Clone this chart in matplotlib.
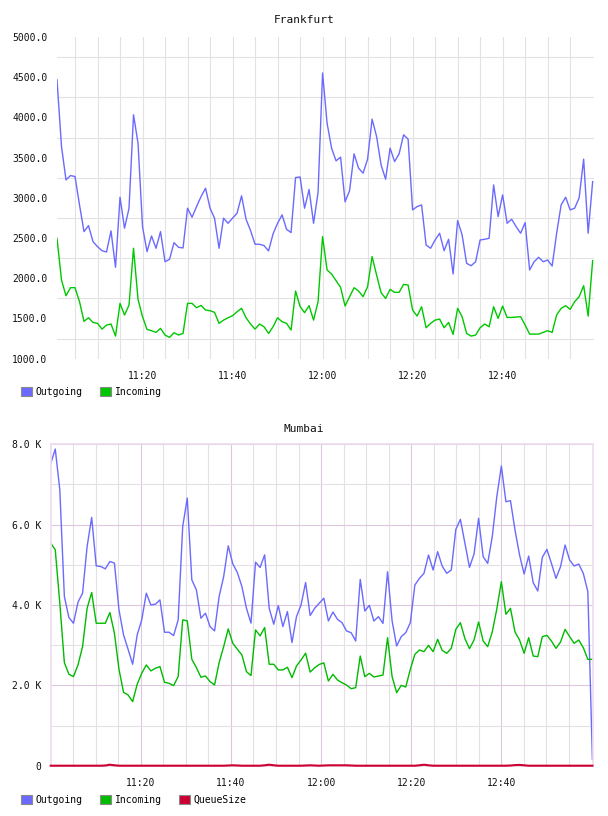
import numpy as np
import matplotlib
matplotlib.use("Agg")
import matplotlib.pyplot as plt
from matplotlib.patches import Patch
from matplotlib.ticker import FixedLocator, FuncFormatter

# ---------------- data ----------------
# Frankfurt: one sample per minute, 11:01 .. 13:00 (minutes after 11:00)
fra_start_min = 1
fra_outgoing = [4469, 3638, 3223, 3277, 3265, 2912, 2580, 2655, 2455, 2393,
                2343, 2327, 2589, 2137, 3008, 2622, 2871, 4033, 3680, 2642,
                2331, 2526, 2373, 2580, 2206, 2236, 2443, 2385, 2377, 2871,
                2759, 2891, 3016, 3120, 2871, 2747, 2373, 2747, 2684, 2747,
                2809, 3025, 2734, 2593, 2423, 2423, 2406, 2340, 2552, 2684,
                2788, 2609, 2568, 3252, 3260, 2871, 3104, 2684, 3068, 4552,
                3929, 3618, 3460, 3506, 2950, 3090, 3547, 3369, 3307, 3481,
                3979, 3763, 3410, 3232, 3618, 3451, 3547, 3784, 3730, 2850,
                2891, 2912, 2414, 2373, 2476, 2560, 2343, 2485, 2053, 2717,
                2539, 2186, 2156, 2206, 2476, 2485, 2497, 3161, 2767, 3037,
                2684, 2734, 2642, 2560, 2692, 2103, 2206, 2261, 2206, 2227,
                2152, 2560, 2912, 3008, 2850, 2871, 3000, 3481, 2560, 3202]
fra_incoming = [2497, 1978, 1783, 1883, 1883, 1709, 1464, 1509, 1451, 1439,
                1368, 1418, 1431, 1281, 1688, 1543, 1667, 2373, 1738, 1522,
                1364, 1348, 1327, 1377, 1294, 1265, 1323, 1294, 1314, 1688,
                1688, 1634, 1663, 1605, 1597, 1576, 1439, 1480, 1509, 1534,
                1584, 1626, 1509, 1431, 1368, 1431, 1397, 1314, 1397, 1509,
                1460, 1439, 1356, 1841, 1650, 1572, 1659, 1480, 1709, 2518,
                2103, 2053, 1970, 1887, 1655, 1771, 1883, 1841, 1771, 1895,
                2269, 2041, 1821, 1750, 1862, 1825, 1825, 1924, 1916, 1605,
                1530, 1646, 1385, 1439, 1480, 1493, 1385, 1451, 1302, 1626,
                1522, 1314, 1281, 1294, 1385, 1431, 1397, 1646, 1501, 1655,
                1513, 1513, 1518, 1522, 1418, 1306, 1306, 1306, 1327, 1348,
                1327, 1543, 1626, 1659, 1613, 1709, 1771, 1908, 1530, 2219]

# Mumbai: 120 samples, 11:00 .. ~13:00
mum_start_min = 0.0
mum_end_min = 120.2
mum_outgoing = [7517, 7882, 6869, 4211, 3688, 3546, 4070, 4294, 5457, 6179,
                4975, 4958, 4900, 5083, 5042, 3879, 3256, 2899, 2525, 3256,
                3630, 4294, 4003, 4020, 4128, 3322, 3322, 3239, 3630, 5955,
                6661, 4626, 4377, 3671, 3796, 3463, 3355, 4211, 4709, 5473,
                5025, 4809, 4460, 3920, 3547, 5066, 4934, 5249, 3920, 3522,
                3987, 3463, 3837, 3065, 3713, 4003, 4560, 3738, 3920, 4045,
                4169, 3602, 3826, 3643, 3560, 3353, 3311, 3104, 4638, 3850,
                3992, 3602, 3709, 3543, 4829, 3602, 2979, 3212, 3311, 3560,
                4497, 4663, 4788, 5244, 4871, 5327, 4970, 4788, 4871, 5883,
                6132, 5534, 4937, 5269, 6157, 5202, 5036, 5700, 6696, 7459,
                6571, 6596, 5866, 5244, 4771, 5219, 4555, 4348, 5186, 5385,
                5036, 4663, 4953, 5493, 5119, 4970, 5020, 4788, 4331, 157]
mum_incoming = [5540, 5374, 4045, 2566, 2276, 2218, 2508, 2965, 3920, 4311,
                3546, 3546, 3546, 3812, 3297, 2400, 1827, 1761, 1595, 2027,
                2301, 2508, 2359, 2425, 2467, 2076, 2051, 1993, 2218, 3630,
                3605, 2650, 2442, 2201, 2234, 2093, 2010, 2566, 2965, 3405,
                3048, 2899, 2757, 2342, 2243, 3380, 3231, 3439, 2525, 2525,
                2384, 2384, 2450, 2193, 2483, 2633, 2800, 2330, 2440, 2520,
                2560, 2108, 2274, 2133, 2066, 2008, 1917, 1942, 2730, 2216,
                2299, 2207, 2232, 2257, 3187, 2216, 1817, 1999, 1958, 2398,
                2772, 2880, 2838, 2996, 2838, 3145, 2871, 2797, 2921, 3394,
                3560, 3162, 2913, 3129, 3577, 3104, 2963, 3328, 3900, 4580,
                3768, 3917, 3328, 3129, 2797, 3187, 2730, 2714, 3212, 3245,
                3104, 2921, 3079, 3394, 3212, 3046, 3129, 2938, 2647, 2647]
mum_queue = [0, 0, 0, 0, 0, 0, 0, 0, 0, 0,
             0, 0, 5, 25, 10, 0, 0, 0, 0, 0,
             0, 0, 0, 0, 0, 0, 0, 0, 0, 0,
             0, 0, 0, 0, 0, 0, 0, 0, 0, 5,
             10, 5, 0, 0, 0, 0, 0, 10, 25, 10,
             0, 0, 0, 0, 0, 0, 5, 10, 5, 0,
             5, 10, 10, 10, 10, 10, 5, 0, 0, 0,
             0, 0, 0, 0, 0, 0, 0, 0, 0, 0,
             0, 10, 25, 10, 0, 0, 0, 0, 0, 0,
             0, 0, 0, 0, 0, 0, 0, 0, 0, 0,
             0, 5, 15, 20, 10, 0, 0, 0, 0, 0,
             0, 0, 0, 0, 0, 0, 0, 0, 0, 0]

fra_yticks = [1000, 1500, 2000, 2500, 3000, 3500, 4000, 4500, 5000]
mum_yticks = [0, 2000, 4000, 6000, 8000]
time_ticks = [20, 40, 60, 80, 100]          # minutes after 11:00
time_labels = ["11:20", "11:40", "12:00", "12:20", "12:40"]

series_names = ["Outgoing", "Incoming", "QueueSize"]
c_out = "#6a6aff"
c_in_top = "#00c800"
c_in_bot = "#00bb00"
c_q = "#cc0033"

# ---------------- figure ----------------
plt.rcParams["font.family"] = ["DejaVu Sans Mono"]
W, H = 608, 816
fig = plt.figure(figsize=(W / 100, H / 100), dpi=100)


def ax_rect(l, t, r, b):
    return [l / W, 1 - b / H, (r - l) / W, (b - t) / H]


fs = 7
txt_color = "#111111"

# ---- Frankfurt ----
ax1 = fig.add_axes(ax_rect(57, 37, 594, 358.7))
x_fra = fra_start_min + np.arange(len(fra_outgoing))
ax1.plot(x_fra, fra_outgoing, color=c_out, lw=1.0)
ax1.plot(x_fra, fra_incoming, color=c_in_top, lw=1.0)
ax1.set_xlim(1.0, 120.3)
ax1.set_ylim(1000, 5000)
ax1.yaxis.set_major_locator(FixedLocator(fra_yticks))
ax1.yaxis.set_major_formatter(FuncFormatter(lambda v, p: f"{v:.1f}"))
ax1.yaxis.set_minor_locator(FixedLocator([v + 250 for v in fra_yticks[:-1]]))
ax1.xaxis.set_major_locator(FixedLocator(time_ticks))
ax1.set_xticklabels(time_labels)
ax1.xaxis.set_minor_locator(FixedLocator(np.arange(5, 120, 5)))
ax1.grid(True, which="minor", axis="both", color="#e2e2e2", lw=0.8)
ax1.grid(True, which="major", axis="x", color="#e2e2e2", lw=0.8)
ax1.set_axisbelow(True)
for s in ax1.spines.values():
    s.set_visible(False)
ax1.tick_params(which="both", length=0, labelsize=fs, colors=txt_color)
ax1.tick_params(axis="y", pad=7)
ax1.tick_params(axis="x", pad=9)
fig.text(0.5, 1 - 20 / H, "Frankfurt", ha="center", va="center",
         fontsize=8, color=txt_color)

# ---- Mumbai ----
ax2 = fig.add_axes(ax_rect(50.7, 444.3, 593.3, 765.7))
x_mum = np.linspace(mum_start_min, mum_end_min, len(mum_outgoing))
ax2.plot(x_mum, mum_outgoing, color=c_out, lw=1.0)
ax2.plot(x_mum, mum_incoming, color=c_in_bot, lw=1.0)
ax2.plot(x_mum, mum_queue, color=c_q, lw=1.5, clip_on=False, zorder=4)
ax2.set_xlim(0, 120.4)
ax2.set_ylim(0, 8000)
ax2.yaxis.set_major_locator(FixedLocator(mum_yticks))
ax2.yaxis.set_major_formatter(
    FuncFormatter(lambda v, p: "0" if v == 0 else f"{v / 1000:.1f} K"))
ax2.yaxis.set_minor_locator(FixedLocator([1000, 3000, 5000, 7000]))
ax2.xaxis.set_major_locator(FixedLocator(time_ticks))
ax2.set_xticklabels(time_labels)
ax2.xaxis.set_minor_locator(FixedLocator([m for m in range(5, 120, 5) if m % 20]))
ax2.grid(True, which="minor", axis="both", color="#e4e0e4", lw=0.8)
ax2.grid(True, which="major", axis="both", color="#dcc8dc", lw=0.8)
ax2.set_axisbelow(True)
for s in ax2.spines.values():
    s.set_color("#eedcee")
    s.set_linewidth(1.2)
ax2.tick_params(which="both", length=0, labelsize=fs, colors=txt_color)
ax2.tick_params(axis="y", pad=7)
ax2.tick_params(axis="x", pad=9)
fig.text(0.5, 1 - 429 / H, "Mumbai", ha="center", va="center",
         fontsize=8, color=txt_color)

# ---- legends ----
edge = "#8a8a8a"
h_top = [Patch(facecolor=c_out, edgecolor=edge, lw=0.8, label=series_names[0]),
         Patch(facecolor=c_in_top, edgecolor=edge, lw=0.8, label=series_names[1])]
fig.legend(handles=h_top, loc="center left", bbox_to_anchor=(21 / W, 1 - 392 / H),
           ncol=2, frameon=False, fontsize=fs, handlelength=1.1, handleheight=1.1,
           handletextpad=0.4, columnspacing=1.8, borderpad=0, borderaxespad=0)

h_bot = [Patch(facecolor=c_out, edgecolor=edge, lw=0.8, label=series_names[0]),
         Patch(facecolor=c_in_bot, edgecolor=edge, lw=0.8, label=series_names[1]),
         Patch(facecolor=c_q, edgecolor=edge, lw=0.8, label=series_names[2])]
fig.legend(handles=h_bot, loc="center left", bbox_to_anchor=(21 / W, 1 - 800 / H),
           ncol=3, frameon=False, fontsize=fs, handlelength=1.1, handleheight=1.1,
           handletextpad=0.4, columnspacing=1.8, borderpad=0, borderaxespad=0)

fig.savefig("out.png", dpi=100, facecolor="white")
